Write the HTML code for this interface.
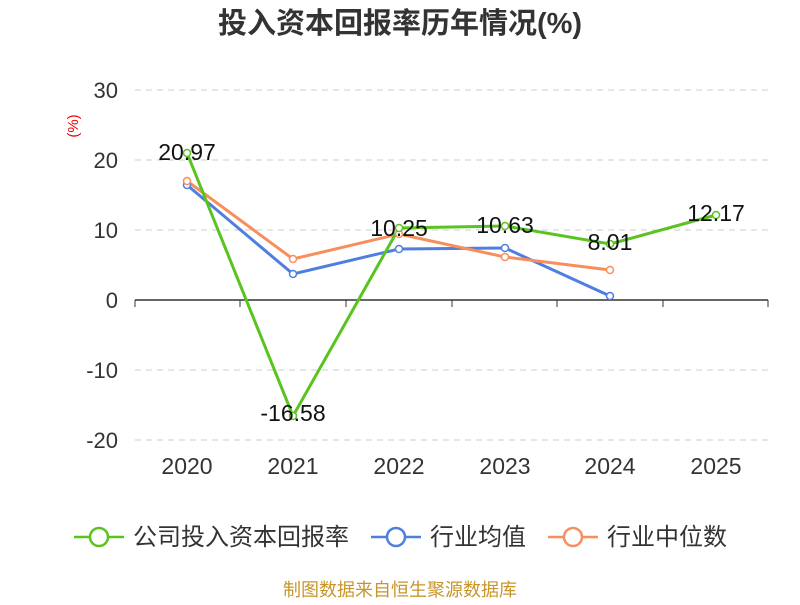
<!DOCTYPE html>
<html><head><meta charset="utf-8"><style>
body{margin:0;background:#fff;width:800px;height:600px;overflow:hidden}
text{font-family:"Liberation Sans","Noto Sans CJK SC",sans-serif}
</style></head><body>
<svg width="800" height="600" viewBox="0 0 800 600">
<text x="400" y="33" text-anchor="middle" font-size="29" font-weight="bold" fill="#333">投入资本回报率历年情况(%)</text>
<text x="78" y="126" transform="rotate(-90 78 126)" text-anchor="middle" font-size="15" fill="#e00">(%)</text>
<g stroke="#ccc" stroke-dasharray="6,5" stroke-width="1">
<line x1="135" y1="90" x2="768" y2="90"/><line x1="135" y1="160" x2="768" y2="160"/><line x1="135" y1="230" x2="768" y2="230"/><line x1="135" y1="370" x2="768" y2="370"/><line x1="135" y1="440" x2="768" y2="440"/>
</g>
<line x1="135" y1="300" x2="768" y2="300" stroke="#333" stroke-width="1.5"/>
<g stroke="#333"><line x1="135" y1="300" x2="135" y2="307"/><line x1="240" y1="300" x2="240" y2="307"/><line x1="346" y1="300" x2="346" y2="307"/><line x1="452" y1="300" x2="452" y2="307"/><line x1="557" y1="300" x2="557" y2="307"/><line x1="663" y1="300" x2="663" y2="307"/><line x1="768" y1="300" x2="768" y2="307"/></g>
<g font-size="22" fill="#333" text-anchor="end">
<text x="118" y="98">30</text><text x="118" y="168">20</text><text x="118" y="238">10</text><text x="118" y="308">0</text><text x="118" y="378">-10</text><text x="118" y="448">-20</text></g>
<g font-size="23" fill="#333" text-anchor="middle">
<text x="187" y="474">2020</text><text x="293" y="474">2021</text><text x="399" y="474">2022</text><text x="505" y="474">2023</text><text x="610" y="474">2024</text><text x="716" y="474">2025</text></g>
<g fill="none" stroke-width="3">
<polyline stroke="#4e7fe0" points="187,185 293,274 399,249 505,248 610,296"/>
<polyline stroke="#f78e5c" points="187,181 293,259 399,234 505,257 610,270"/>
<polyline stroke="#5ac41f" points="187,153 293,416 399,228 505,226 610,244 716,215"/>
</g>
<g fill="#fff" stroke-width="1.5">
<g stroke="#4e7fe0"><circle cx="187" cy="185" r="3.5"/><circle cx="293" cy="274" r="3.5"/><circle cx="399" cy="249" r="3.5"/><circle cx="505" cy="248" r="3.5"/><circle cx="610" cy="296" r="3.5"/></g>
<g stroke="#f78e5c"><circle cx="187" cy="181" r="3.5"/><circle cx="293" cy="259" r="3.5"/><circle cx="399" cy="234" r="3.5"/><circle cx="505" cy="257" r="3.5"/><circle cx="610" cy="270" r="3.5"/></g>
<g stroke="#5ac41f"><circle cx="187" cy="153" r="3.5"/><circle cx="293" cy="416" r="3.5"/><circle cx="399" cy="228" r="3.5"/><circle cx="505" cy="226" r="3.5"/><circle cx="610" cy="244" r="3.5"/><circle cx="716" cy="215" r="3.5"/></g>
</g>
<g font-size="23" fill="#111" text-anchor="middle">
<text x="187" y="160">20.97</text><text x="293" y="421">-16.58</text><text x="399" y="236">10.25</text><text x="505" y="233">10.63</text><text x="610" y="250">8.01</text><text x="716" y="221">12.17</text></g>
<g stroke-width="2.5" fill="#fff">
<line x1="74" y1="537" x2="124" y2="537" stroke="#5ac41f"/><circle cx="99" cy="537" r="9" stroke="#5ac41f"/>
<line x1="371" y1="537" x2="421" y2="537" stroke="#4e7fe0"/><circle cx="396" cy="537" r="9" stroke="#4e7fe0"/>
<line x1="548" y1="537" x2="598" y2="537" stroke="#f78e5c"/><circle cx="573" cy="537" r="9" stroke="#f78e5c"/>
</g>
<g font-size="24" fill="#333">
<text x="133" y="545">公司投入资本回报率</text><text x="430" y="545">行业均值</text><text x="607" y="545">行业中位数</text></g>
<text x="400" y="596" text-anchor="middle" font-size="18" fill="#c8952a">制图数据来自恒生聚源数据库</text>
</svg>
</body></html>
